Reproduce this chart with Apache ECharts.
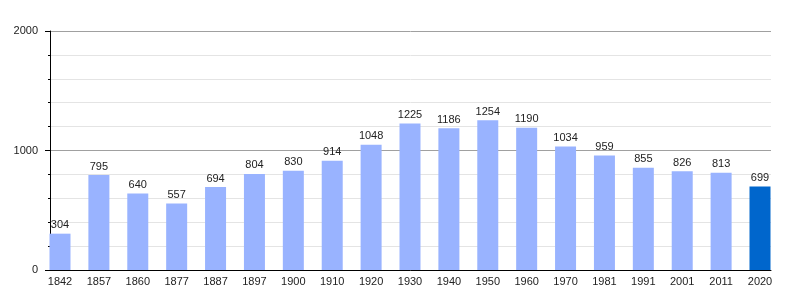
<!DOCTYPE html>
<html><head><meta charset="utf-8">
<script src="https://cdn.jsdelivr.net/npm/echarts@6/dist/echarts.min.js"></script>
<style>html,body{margin:0;padding:0;background:#fff}#c{width:800px;height:300px}</style>
</head><body><div id="c"></div>
<script>
const years = ['1842','1857','1860','1877','1887','1897','1900','1910','1920','1930','1940','1950','1960','1970','1981','1991','2001','2011','2020'];
const population = [304,795,640,557,694,804,830,914,1048,1225,1186,1254,1190,1034,959,855,826,813,699];
const yTicks = [0,1000,2000];
const barColor = '#99b3ff';
const lastColor = '#0066cc';

const chart = echarts.init(document.getElementById('c'), null, {renderer:'canvas'});
const font = {fontFamily:'Liberation Sans, Arial, sans-serif', fontSize:11, color:'#222'};
chart.setOption({
  animation:false,
  grid:[
    {left:50, right:29, top:31, bottom:30},
    {left:60, right:40, top:31, bottom:30}
  ],
  xAxis:[
    {gridIndex:0, type:'category', data:years, show:true, axisLine:{show:true, lineStyle:{color:'#000', width:1}}, axisTick:{show:false}, axisLabel:{show:false}, splitLine:{show:false}},
    {gridIndex:1, type:'category', data:years, boundaryGap:false, axisLine:{show:false}, axisTick:{show:false},
     axisLabel:Object.assign({margin:6, interval:0}, font)}
  ],
  yAxis:[
    {gridIndex:0, type:'value', min:yTicks[0], max:yTicks[yTicks.length-1], interval:1000,
     axisLine:{show:true, lineStyle:{color:'#000', width:1}},
     axisTick:{show:true, length:5, lineStyle:{color:'#000'}},
     minorTick:{show:true, splitNumber:5, length:2, lineStyle:{color:'#000'}},
     splitLine:{show:true, lineStyle:{color:'#a0a0a0', width:1}},
     minorSplitLine:{show:true, lineStyle:{color:'#e4e4e4', width:1}},
     axisLabel:Object.assign({margin:12, formatter:v=>String(v)}, font)},
    {gridIndex:1, type:'value', min:0, max:2000, show:false, splitLine:{show:false}}
  ],
  series:[{
    type:'bar', xAxisIndex:1, yAxisIndex:1, barWidth:21,
    data:population.map((v,i)=> ({value:v, itemStyle:{color: i===population.length-1 ? lastColor : barColor}})),
    label:Object.assign({show:true, position:'top', distance:3}, font)
  }]
});
</script></body></html>
